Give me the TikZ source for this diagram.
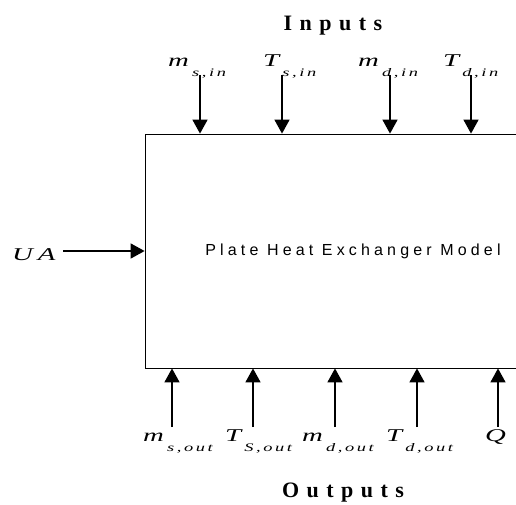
\documentclass[tikz,border=0pt]{standalone}
\usepackage{fontspec}
\setmainfont{Liberation Serif}
\newfontfamily\titlefont[LetterSpace=34]{Liberation Serif}
\newfontfamily\modelfont[LetterSpace=26]{Liberation Sans}
\newfontfamily\subfont[LetterSpace=14]{Liberation Serif}
\usetikzlibrary{arrows.meta,positioning}

% a variable with its lowered subscript, drawn wide as in the original
\newcommand{\pvar}[2]{\scalebox{1.6}[1]{{\fontsize{18}{18}\selectfont\itshape #1}\hspace{2pt}\raisebox{-10pt}{\fontsize{11.5}{12}\subfont\itshape #2}}}
\newcommand{\pwide}[1]{\scalebox{1.6}[1]{\fontsize{18}{18}\selectfont\itshape #1}}

\begin{document}
\begin{tikzpicture}[x=1pt,y=-1pt,>={Triangle[width=15pt,length=14pt]},
  arr/.style={->,line width=1.6pt},
  lbl/.style={anchor=base west,inner sep=0pt},
  title/.style={anchor=base,inner sep=0pt,font=\fontsize{22}{22}\titlefont\bfseries},
  model box/.style={draw,line width=0.8pt,minimum width=416pt,minimum height=234pt,
    inner sep=0pt,font=\fontsize{16}{16}\modelfont}]

  \useasboundingbox (0,0) rectangle (516,504);

  \node[model box] (model) at (353,251) {Plate Heat Exchanger Model};

  % inputs
  \node[title] (inputs) at (333,30) {Inputs};
  \node[lbl] (msin) at (168,66) {\pvar{m}{s,in}};
  \node[lbl] (tsin) at (263,66) {\pvar{T}{s,in}};
  \node[lbl] (mdin) at (358,66) {\pvar{m}{d,in}};
  \node[lbl] (tdin) at (443,66) {\pvar{T}{d,in}};

  \coordinate (i1) at (200,75);
  \coordinate (i2) at (282,75);
  \coordinate (i3) at (390,75);
  \coordinate (i4) at (471,75);

  \draw[arr] (i1) -- (i1 |- model.north);
  \draw[arr] (i2) -- (i2 |- model.north);
  \draw[arr] (i3) -- (i3 |- model.north);
  \draw[arr] (i4) -- (i4 |- model.north);

  % parameter
  \node[lbl] (ua) at (12,260) {\pwide{U\hspace{3pt}A}};
  \coordinate (p1) at (63,251);
  \draw[arr] (p1) -- (p1 -| model.west);

  % outputs
  \node[lbl] (msout) at (143,441) {\pvar{m}{s,out}};
  \node[lbl] (tsout) at (225,441) {\pvar{T}{S,out}};
  \node[lbl] (mdout) at (302,441) {\pvar{m}{d,out}};
  \node[lbl] (tdout) at (386,441) {\pvar{T}{d,out}};
  \node[lbl] (q) at (485,441) {\pwide{Q}};
  \node[title] (outputs) at (343,497) {Outputs};

  \coordinate (o1) at (172,427);
  \coordinate (o2) at (253,427);
  \coordinate (o3) at (335,427);
  \coordinate (o4) at (417,427);
  \coordinate (o5) at (498,427);

  \draw[arr] (o1) -- (o1 |- model.south);
  \draw[arr] (o2) -- (o2 |- model.south);
  \draw[arr] (o3) -- (o3 |- model.south);
  \draw[arr] (o4) -- (o4 |- model.south);
  \draw[arr] (o5) -- (o5 |- model.south);
\end{tikzpicture}
\end{document}
